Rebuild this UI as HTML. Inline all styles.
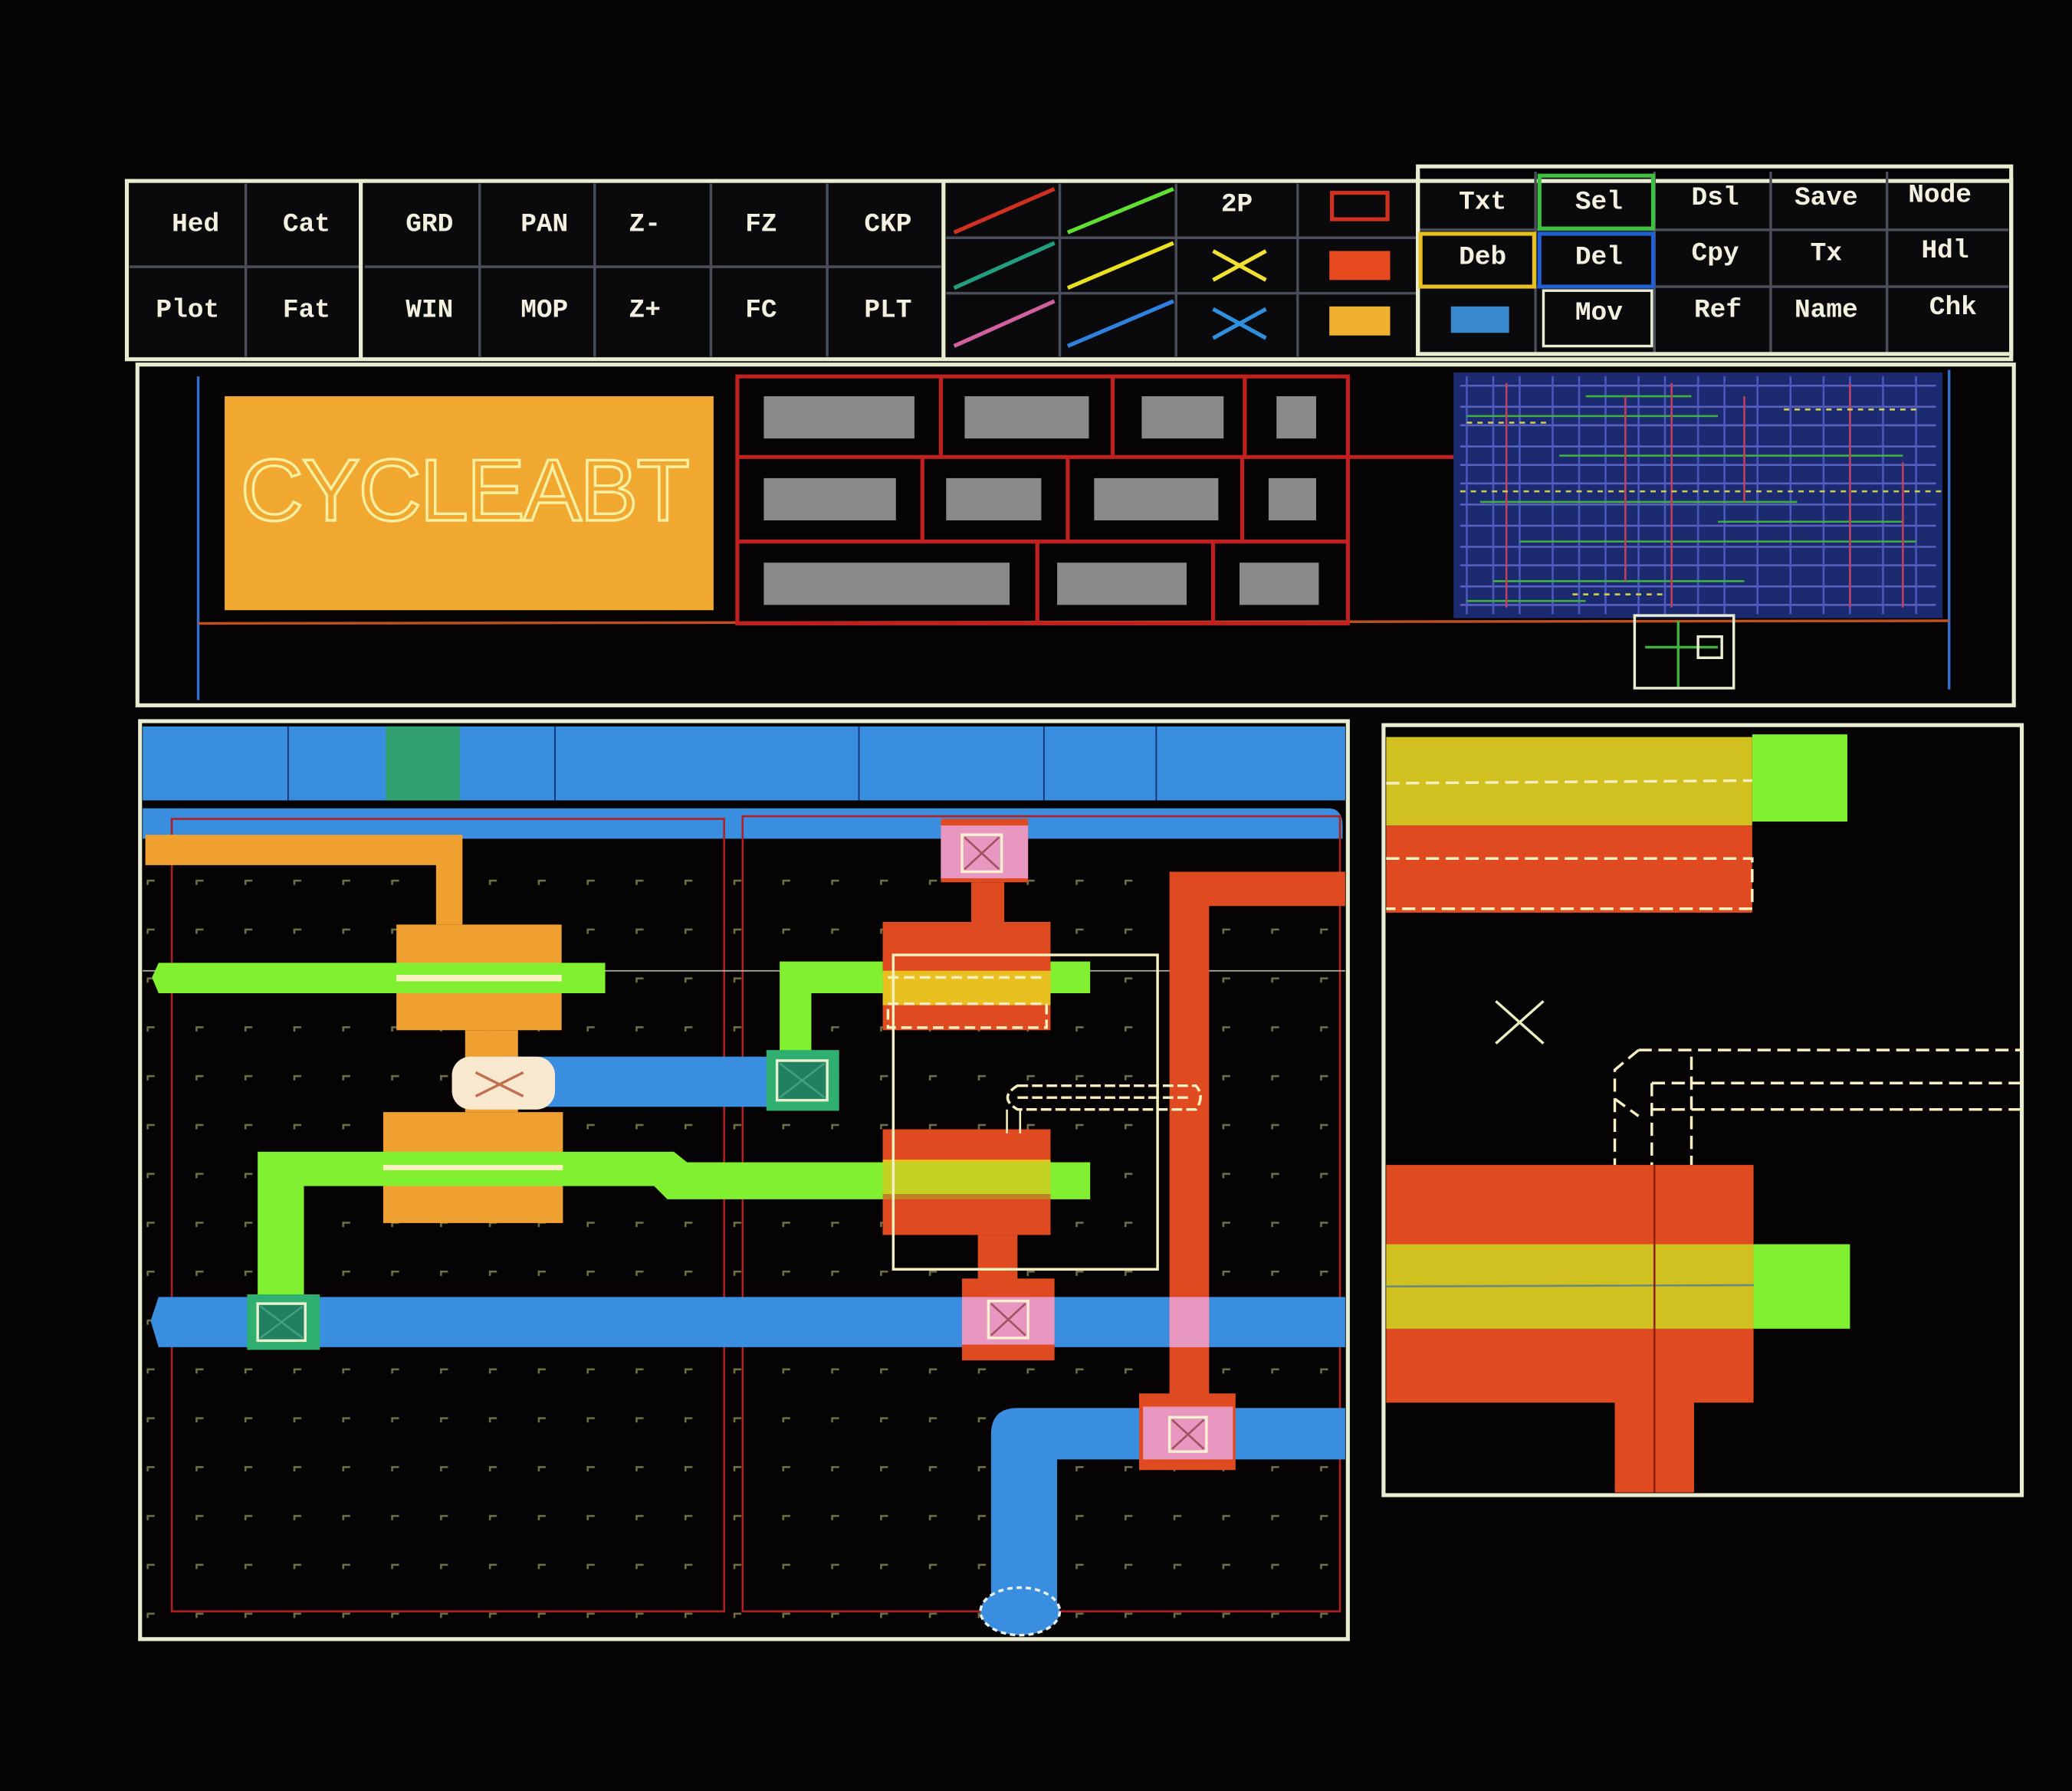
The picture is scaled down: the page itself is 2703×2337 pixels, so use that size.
<!DOCTYPE html>
<html><head><meta charset="utf-8"><style>
html,body{margin:0;padding:0;background:#050303;}
svg{display:block}
.t{font-family:"Liberation Mono",monospace;font-weight:bold;fill:#f4f0e0;font-size:20px;text-anchor:middle}
</style></head><body>
<svg width="2703" height="2337" viewBox="0 0 1568 1356" preserveAspectRatio="none" xmlns="http://www.w3.org/2000/svg">
<rect width="1568" height="1356" fill="#050303"/>
<!-- MENU -->
<rect x="96" y="137" width="1426" height="135" fill="#0a0a0c" stroke="#e8ecd0" stroke-width="3"/>
<g stroke="#4a4e58" stroke-width="2" fill="none">
<line x1="186" y1="139" x2="186" y2="270"/><line x1="98" y1="202" x2="272" y2="202"/>
<line x1="363" y1="139" x2="363" y2="270"/><line x1="450" y1="139" x2="450" y2="270"/><line x1="538" y1="139" x2="538" y2="270"/><line x1="626" y1="139" x2="626" y2="270"/><line x1="276" y1="202" x2="712" y2="202"/>
<line x1="802" y1="139" x2="802" y2="270"/><line x1="890" y1="139" x2="890" y2="270"/><line x1="982" y1="139" x2="982" y2="270"/><line x1="716" y1="180" x2="1072" y2="180"/><line x1="716" y1="222" x2="1072" y2="222"/>
<line x1="1162" y1="130" x2="1162" y2="268"/><line x1="1252" y1="130" x2="1252" y2="268"/><line x1="1340" y1="130" x2="1340" y2="268"/><line x1="1428" y1="130" x2="1428" y2="268"/><line x1="1074" y1="174" x2="1520" y2="174"/><line x1="1074" y1="217" x2="1520" y2="217"/>
</g>
<g stroke="#e8ecd0" stroke-width="3"><line x1="273" y1="137" x2="273" y2="272"/><line x1="714" y1="137" x2="714" y2="272"/><line x1="1073" y1="130" x2="1073" y2="268"/></g>
<rect x="1073" y="126" width="449" height="142" fill="none" stroke="#e8ecd0" stroke-width="3"/>
<text class="t" x="148" y="175">Hed</text><text class="t" x="232" y="175">Cat</text>
<text class="t" x="142" y="240">Plot</text><text class="t" x="232" y="240">Fat</text>
<text class="t" x="325" y="175">GRD</text><text class="t" x="412" y="175">PAN</text><text class="t" x="488" y="175">Z-</text><text class="t" x="576" y="175">FZ</text><text class="t" x="672" y="175">CKP</text>
<text class="t" x="325" y="240">WIN</text><text class="t" x="412" y="240">MOP</text><text class="t" x="488" y="240">Z+</text><text class="t" x="576" y="240">FC</text><text class="t" x="672" y="240">PLT</text>
<g stroke-width="3">
<line x1="722" y1="176" x2="798" y2="143" stroke="#d03020"/>
<line x1="808" y1="176" x2="888" y2="143" stroke="#60e030"/>
<line x1="722" y1="218" x2="798" y2="184" stroke="#20a080"/>
<line x1="808" y1="218" x2="888" y2="184" stroke="#e8e020"/>
<line x1="722" y1="262" x2="798" y2="228" stroke="#d060a0"/>
<line x1="808" y1="262" x2="888" y2="228" stroke="#3080e0"/>
<line x1="918" y1="190" x2="958" y2="212" stroke="#f0e030"/><line x1="918" y1="212" x2="958" y2="190" stroke="#f0e030"/>
<line x1="918" y1="234" x2="958" y2="256" stroke="#3090e0"/><line x1="918" y1="256" x2="958" y2="234" stroke="#3090e0"/>
</g>
<text class="t" x="936" y="160">2P</text>
<rect x="1008" y="146" width="42" height="20" fill="none" stroke="#d03020" stroke-width="3"/>
<rect x="1006" y="190" width="46" height="22" fill="#e84a20"/>
<rect x="1006" y="232" width="46" height="22" fill="#f0b030"/>
<rect x="1165" y="133" width="86" height="40" fill="none" stroke="#40c040" stroke-width="3"/>
<rect x="1075" y="177" width="86" height="40" fill="none" stroke="#e8c020" stroke-width="3"/>
<rect x="1165" y="177" width="86" height="40" fill="none" stroke="#2060d0" stroke-width="3"/>
<rect x="1168" y="220" width="82" height="42" fill="none" stroke="#e8ecd0" stroke-width="2"/>
<rect x="1098" y="232" width="44" height="20" fill="#3a8ad0"/>
<text class="t" x="1122" y="158">Txt</text><text class="t" x="1210" y="158">Sel</text><text class="t" x="1298" y="155">Dsl</text><text class="t" x="1382" y="155">Save</text><text class="t" x="1468" y="153">Node</text>
<text class="t" x="1122" y="200">Deb</text><text class="t" x="1210" y="200">Del</text><text class="t" x="1298" y="197">Cpy</text><text class="t" x="1382" y="197">Tx</text><text class="t" x="1472" y="195">Hdl</text>
<text class="t" x="1210" y="242">Mov</text><text class="t" x="1300" y="240">Ref</text><text class="t" x="1382" y="240">Name</text><text class="t" x="1478" y="238">Chk</text>
<!-- PANEL 2 -->
<rect x="104" y="276" width="1420" height="258" fill="#050303" stroke="#e8ecd0" stroke-width="3"/>
<line x1="150" y1="285" x2="150" y2="530" stroke="#3070d0" stroke-width="2"/>
<line x1="1475" y1="280" x2="1475" y2="522" stroke="#3070d0" stroke-width="2"/>
<line x1="150" y1="472" x2="1475" y2="470" stroke="#c05020" stroke-width="2"/>
<rect x="170" y="300" width="370" height="162" fill="#f0a830"/>
<text x="352" y="394" font-family="Liberation Sans,sans-serif" font-size="66" fill="none" stroke="#f8f0a0" stroke-width="2" text-anchor="middle" textLength="340">CYCLEABT</text>
<g fill="none" stroke="#c02020" stroke-width="3">
<rect x="558" y="285" width="462" height="187"/>
<line x1="558" y1="346" x2="1100" y2="346"/><line x1="558" y1="410" x2="1020" y2="410"/>
<line x1="712" y1="285" x2="712" y2="346"/><line x1="842" y1="285" x2="842" y2="346"/><line x1="942" y1="285" x2="942" y2="346"/>
<line x1="698" y1="346" x2="698" y2="410"/><line x1="808" y1="346" x2="808" y2="410"/><line x1="940" y1="346" x2="940" y2="410"/>
<line x1="785" y1="410" x2="785" y2="472"/><line x1="918" y1="410" x2="918" y2="472"/>
</g>
<g fill="#8a8a88">
<rect x="578" y="300" width="114" height="32"/><rect x="730" y="300" width="94" height="32"/><rect x="864" y="300" width="62" height="32"/><rect x="966" y="300" width="30" height="32"/>
<rect x="578" y="362" width="100" height="32"/><rect x="716" y="362" width="72" height="32"/><rect x="828" y="362" width="94" height="32"/><rect x="960" y="362" width="36" height="32"/>
<rect x="578" y="426" width="186" height="32"/><rect x="800" y="426" width="98" height="32"/><rect x="938" y="426" width="60" height="32"/>
</g>
<!-- chip -->
<rect x="1100" y="282" width="370" height="186" fill="#1c2a70"/>
<g stroke-width="1.5" fill="none">
<path d="M1105 292H1465M1105 308H1465M1105 322H1465M1105 338H1465M1105 352H1465M1105 366H1465M1105 382H1465M1105 398H1465M1105 414H1465M1105 428H1465M1105 444H1465M1105 458H1465" stroke="#5a60c0"/>
<path d="M1110 285V465M1130 285V465M1150 285V465M1175 285V465M1195 285V465M1215 285V465M1240 285V465M1260 285V465M1285 285V465M1305 285V465M1330 285V465M1355 285V465M1380 285V465M1400 285V465M1425 285V465M1450 285V465" stroke="#4a58c0"/>
<path d="M1110 315H1300M1180 345H1440M1120 380H1360M1150 410H1450M1130 440H1320M1200 300H1280M1300 395H1440M1110 455H1200" stroke="#40b040"/>
<path d="M1140 290V460M1265 290V460M1400 290V460M1230 300V440M1320 300V380M1440 350V460" stroke="#c04060"/>
<path d="M1105 372H1470M1110 320H1170M1350 310H1450M1190 450H1260" stroke="#d0d050" stroke-dasharray="4 4"/>
</g>
<rect x="1237" y="466" width="75" height="55" fill="none" stroke="#e8ecd0" stroke-width="2"/>
<path d="M1245 490H1300M1270 470V520" stroke="#40b040" stroke-width="2"/>
<rect x="1285" y="482" width="18" height="16" fill="none" stroke="#e8ecd0" stroke-width="2"/>
<!-- MAIN LAYOUT -->
<rect x="106" y="546" width="914" height="695" fill="#050303" stroke="#e8ecd0" stroke-width="3"/>
<rect x="108" y="550" width="910" height="56" fill="#3a8ee0"/>
<rect x="292" y="550" width="56" height="56" fill="#30a070"/>
<path d="M108 612H1005Q1016 612 1016 625V635H108Z" fill="#3a8ee0"/>
<g stroke="#0a2a6a" stroke-width="1"><line x1="218" y1="550" x2="218" y2="606"/><line x1="420" y1="550" x2="420" y2="606"/><line x1="650" y1="550" x2="650" y2="606"/><line x1="790" y1="550" x2="790" y2="606"/><line x1="875" y1="550" x2="875" y2="606"/></g>
<defs><pattern id="g" x="0" y="0" width="37" height="37" patternUnits="userSpaceOnUse"><rect x="0" y="0" width="6" height="1.5" fill="#8a8a50"/><rect x="0" y="0" width="1.5" height="4" fill="#8a8a50"/></pattern></defs>
<rect x="108" y="640" width="910" height="598" fill="url(#g)" opacity="0.8"/>
<g fill="none" stroke="#b02020" stroke-width="1.5"><rect x="130" y="620" width="418" height="600"/><rect x="562" y="618" width="452" height="602"/></g>
<line x1="108" y1="735" x2="1018" y2="735" stroke="#b0b0a0" stroke-width="1"/>
<path d="M110 632H350V700H330V655H110Z" fill="#f0a030"/>
<rect x="300" y="700" width="125" height="80" fill="#f0a030"/>
<rect x="352" y="780" width="40" height="62" fill="#f0a030"/>
<rect x="290" y="842" width="136" height="84" fill="#f0a030"/>
<path d="M120 729H458V752H120L115 740Z" fill="#80f030"/>
<path d="M195 872H510L520 880H825V908H505L495 898H230V1000H195Z" fill="#80f030"/>
<path d="M590 728H825V752H614V800H590Z" fill="#80f030"/>
<rect x="300" y="738" width="125" height="5" fill="#f8f0c0"/>
<rect x="290" y="882" width="136" height="4" fill="#f8f0c0"/>
<rect x="380" y="800" width="250" height="38" fill="#3a8ee0"/>
<rect x="342" y="800" width="78" height="40" rx="14" fill="#f8e8d0"/>
<path d="M360 812L396 830M396 812L360 830" stroke="#c07050" stroke-width="2"/>
<rect x="580" y="795" width="55" height="46" fill="#30b070"/><rect x="588" y="803" width="38" height="30" fill="#208060" stroke="#e8f0d0" stroke-width="2"/>
<path d="M590 805L624 831M624 805L590 831" stroke="#40a080" stroke-width="1.5"/>
<path d="M120 982H1018V1020H120L114 1000Z" fill="#3a8ee0"/>
<rect x="187" y="980" width="55" height="42" fill="#30b070"/><rect x="195" y="987" width="36" height="28" fill="#208060" stroke="#e8f0d0" stroke-width="2"/>
<path d="M197 989L229 1013M229 989L197 1013" stroke="#40a080" stroke-width="1.5"/>
<path d="M770 1066H1018V1105H800V1215H750V1086Q750 1066 770 1066Z" fill="#3a8ee0"/>
<ellipse cx="772" cy="1220" rx="30" ry="18" fill="#3a8ee0" stroke="#e8f0f0" stroke-width="2" stroke-dasharray="4 3"/>
<path d="M885 660H1018V686H915V1080H885Z" fill="#e04a20"/>
<rect x="712" y="620" width="66" height="48" fill="#e04a20"/>
<rect x="735" y="668" width="25" height="32" fill="#e04a20"/>
<rect x="668" y="698" width="127" height="82" fill="#e04a20"/>
<rect x="668" y="735" width="127" height="26" fill="#e8c020"/>
<rect x="672" y="760" width="120" height="18" fill="none" stroke="#f8f0c0" stroke-width="2" stroke-dasharray="8 4"/>
<line x1="672" y1="740" x2="792" y2="740" stroke="#f8f0c0" stroke-width="2" stroke-dasharray="8 4"/>
<rect x="668" y="855" width="127" height="80" fill="#e04a20"/>
<rect x="668" y="878" width="127" height="26" fill="#e8c020"/>
<path d="M668 880H825V908H668Z" fill="#80f030" opacity="0.35"/>
<rect x="740" y="935" width="30" height="35" fill="#e04a20"/>
<rect x="728" y="968" width="70" height="62" fill="#e04a20"/>
<rect x="728" y="982" width="70" height="36" fill="#e898c0"/>
<rect x="748" y="985" width="30" height="28" fill="none" stroke="#f8f0d0" stroke-width="2"/>
<path d="M750 987L776 1011M776 987L750 1011" stroke="#a05060" stroke-width="1.5"/>
<rect x="712" y="625" width="66" height="40" fill="#e898c0"/>
<rect x="728" y="632" width="30" height="28" fill="none" stroke="#f8f0d0" stroke-width="2"/>
<path d="M730 634L756 658M756 634L730 658" stroke="#a05060" stroke-width="1.5"/>
<rect x="885" y="982" width="30" height="38" fill="#e898c0"/>
<rect x="862" y="1055" width="73" height="58" fill="#e04a20"/><rect x="865" y="1065" width="68" height="40" fill="#e898c0"/>
<rect x="885" y="1073" width="28" height="26" fill="none" stroke="#f8f0d0" stroke-width="2"/>
<path d="M887 1075L911 1097M911 1075L887 1097" stroke="#a05060" stroke-width="1.5"/>
<rect x="676" y="723" width="200" height="238" fill="none" stroke="#f4f0c0" stroke-width="2"/>
<path d="M770 822H905Q912 830 905 840H770Q755 831 770 822Z" fill="none" stroke="#f4f0c0" stroke-width="2" stroke-dasharray="8 3"/>
<line x1="770" y1="831" x2="900" y2="831" stroke="#f4f0c0" stroke-width="2" stroke-dasharray="8 3"/>
<path d="M762 840V858M772 840V858" stroke="#f4f0c0" stroke-width="1.5"/>
<!-- RIGHT PANEL -->
<rect x="1047" y="549" width="483" height="583" fill="#050303" stroke="#e8ecd0" stroke-width="3"/>
<rect x="1049" y="558" width="277" height="67" fill="#d0c020"/>
<rect x="1326" y="556" width="72" height="66" fill="#80f030"/>
<rect x="1049" y="625" width="277" height="66" fill="#e04a20"/>
<g stroke="#f8f0c0" stroke-width="2" stroke-dasharray="10 5" fill="none">
<line x1="1049" y1="593" x2="1326" y2="591"/><path d="M1049 650H1326V688H1049"/>
<path d="M1240 795H1530M1250 820H1530M1250 840H1530M1240 795L1222 810V832L1240 845M1250 820V882M1280 800V882M1222 832V882"/>
</g>
<path d="M1132 758L1168 790M1168 758L1132 790" stroke="#e8f0c0" stroke-width="2"/>
<rect x="1049" y="882" width="278" height="180" fill="#e04a20"/>
<rect x="1049" y="942" width="278" height="64" fill="#d0c020"/>
<rect x="1327" y="942" width="73" height="64" fill="#80f030"/>
<line x1="1049" y1="974" x2="1327" y2="973" stroke="#6a8a80" stroke-width="1.5"/>
<rect x="1222" y="1060" width="60" height="70" fill="#e04a20"/>
<line x1="1252" y1="882" x2="1252" y2="1130" stroke="#902010" stroke-width="1.5"/>
</svg>
</body></html>
